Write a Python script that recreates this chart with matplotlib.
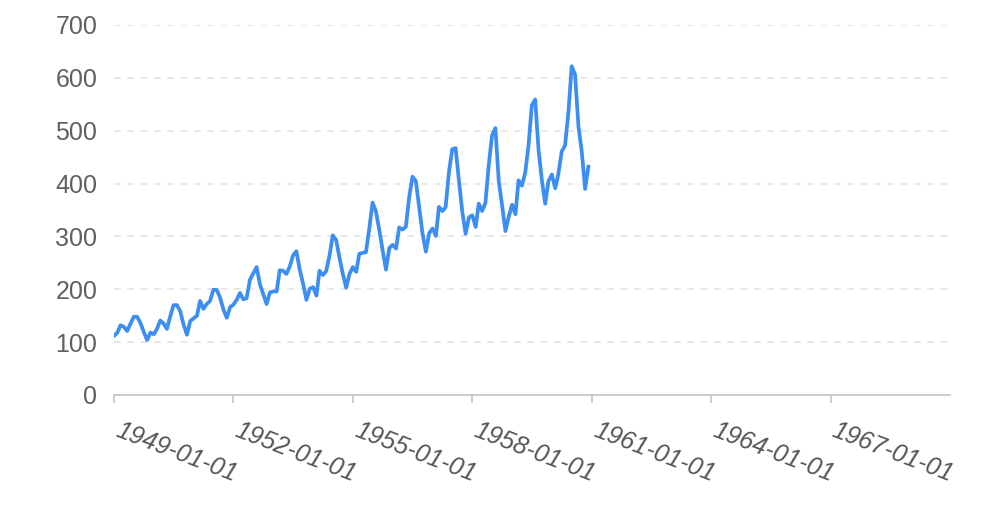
import matplotlib
matplotlib.use('Agg')
import matplotlib.pyplot as plt
import matplotlib.dates as mdates
import matplotlib.transforms as mtransforms
import pandas as pd

# monthly passengers, 1949-01 .. 1960-12
passengers = [
    112, 118, 132, 129, 121, 135, 148, 148, 136, 119, 104, 118,
    115, 126, 141, 135, 125, 149, 170, 170, 158, 133, 114, 140,
    145, 150, 178, 163, 172, 178, 199, 199, 184, 162, 146, 166,
    171, 180, 193, 181, 183, 218, 230, 242, 209, 191, 172, 194,
    196, 196, 236, 235, 229, 243, 264, 272, 237, 211, 180, 201,
    204, 188, 235, 227, 234, 264, 302, 293, 259, 229, 203, 229,
    242, 233, 267, 269, 270, 315, 364, 347, 312, 274, 237, 278,
    284, 277, 317, 313, 318, 374, 413, 405, 355, 306, 271, 306,
    315, 301, 356, 348, 355, 422, 465, 467, 404, 347, 305, 336,
    340, 318, 362, 348, 363, 435, 491, 505, 404, 359, 310, 337,
    360, 342, 406, 396, 420, 472, 548, 559, 463, 407, 362, 405,
    417, 391, 419, 461, 472, 535, 622, 606, 508, 461, 390, 432,
]
dates = pd.date_range('1949-01-01', periods=len(passengers), freq='MS')
tick_dates = pd.to_datetime(['1949-01-01', '1952-01-01', '1955-01-01', '1958-01-01',
                             '1961-01-01', '1964-01-01', '1967-01-01'])
y_ticks = [0, 100, 200, 300, 400, 500, 600, 700]

plt.rcParams['font.family'] = ['Liberation Sans', 'DejaVu Sans']

fig = plt.figure(figsize=(9.9, 5.28), dpi=100)
ax = fig.add_axes([0.1152, 0.2519, 0.8444, 0.7008])

ax.plot(dates, passengers, color='#3d8ef2', linewidth=2.7, solid_joinstyle='round')

ax.set_xlim(pd.Timestamp('1949-01-01'), pd.Timestamp('1970-01-01'))
ax.set_ylim(0, 700)
ax.set_yticks(y_ticks)
ax.set_xticks(tick_dates)
ax.xaxis.set_major_formatter(mdates.DateFormatter('%Y-%m-%d'))

for s in ['top', 'right', 'left']:
    ax.spines[s].set_visible(False)
ax.spines['bottom'].set_color('#c4c4c4')
ax.spines['bottom'].set_linewidth(1.2)

for y in y_ticks[1:]:
    ax.axhline(y, color='#e3e3e3', linewidth=1.2, linestyle=(0, (4, 4)), zorder=0)

ax.tick_params(axis='y', length=0, pad=12, labelsize=18, labelcolor='#606060')
ax.tick_params(axis='x', length=6, width=1.2, color='#c4c4c4', pad=11,
               labelsize=18, labelcolor='#555555')
offset = mtransforms.ScaledTranslation(7 / 100, 0, fig.dpi_scale_trans)
for lbl in ax.get_xticklabels():
    lbl.set_rotation(-21)
    lbl.set_rotation_mode('anchor')
    lbl.set_ha('left')
    lbl.set_va('top')
    lbl.set_style('italic')
    lbl.set_transform(lbl.get_transform() + offset)

fig.savefig('out.png', dpi=100)
